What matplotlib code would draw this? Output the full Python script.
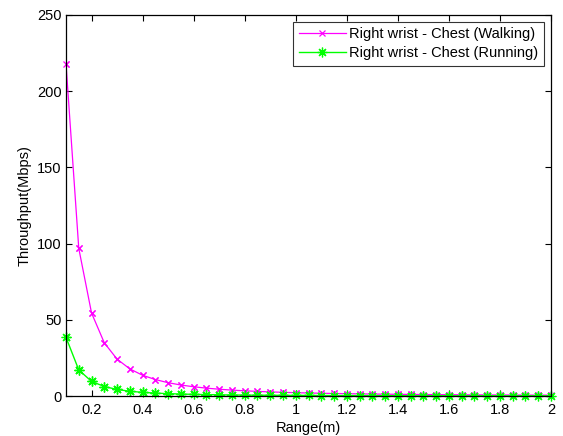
import matplotlib
matplotlib.use("Agg")
import matplotlib.pyplot as plt

plt.rcParams['font.family'] = ['Liberation Sans', 'DejaVu Sans']

range_m = [0.10, 0.10, 0.15, 0.20, 0.25, 0.30, 0.35, 0.40, 0.45, 0.50, 0.55, 0.60, 0.65,
           0.70, 0.75, 0.80, 0.85, 0.90, 0.95, 1.00, 1.05, 1.10, 1.15, 1.20,
           1.25, 1.30, 1.35, 1.40, 1.45, 1.50, 1.55, 1.60, 1.65, 1.70, 1.75,
           1.80, 1.85, 1.90, 1.95, 2.00]
walking = [300, 218, 96.9, 54.5, 34.9, 24.2, 17.8, 13.6, 10.8, 8.72, 7.21, 6.06, 5.16,
           4.45, 3.88, 3.41, 3.02, 2.69, 2.42, 2.18, 1.98, 1.80, 1.65, 1.51,
           1.40, 1.29, 1.20, 1.11, 1.04, 0.97, 0.91, 0.85, 0.80, 0.75, 0.71,
           0.67, 0.64, 0.60, 0.57, 0.55]
running = [50, 38.5, 17.1, 9.6, 6.2, 4.3, 3.1, 2.4, 1.9, 1.54, 1.27, 1.07, 0.91,
           0.79, 0.68, 0.60, 0.53, 0.48, 0.43, 0.385, 0.35, 0.32, 0.29, 0.27,
           0.25, 0.23, 0.21, 0.20, 0.18, 0.17, 0.16, 0.15, 0.14, 0.13, 0.13,
           0.12, 0.11, 0.11, 0.10, 0.10]
labels = ['Right wrist - Chest (Walking)', 'Right wrist - Chest (Running)']
xticks = [0.2, 0.4, 0.6, 0.8, 1, 1.2, 1.4, 1.6, 1.8, 2]
xticklabels = ['0.2', '0.4', '0.6', '0.8', '1', '1.2', '1.4', '1.6', '1.8', '2']
yticks = [0, 50, 100, 150, 200, 250]

fig = plt.figure(figsize=(5.63, 4.36), dpi=100)
ax = fig.add_axes([66/563, 1-396/436, (551-66)/563, (396-15)/436])

wcol, rcol = '#FF00FF', '#00FF00'
ax.plot(range_m, walking, color=wcol, lw=0.9, marker='x', ms=4.5, mew=0.9,
        markevery=slice(1, None), label=labels[0])
ax.plot(range_m, running, color=rcol, lw=1.0, marker=(8, 2, 0), ms=7, mew=0.9,
        markevery=slice(1, None), label=labels[1])
# unclipped markers (as in the original)
ax.plot(range_m[1:], walking[1:], ls='none', color=wcol, marker='x', ms=4.5, mew=0.9,
        clip_on=False)
ax.plot(range_m[1:], running[1:], ls='none', color=rcol, marker=(8, 2, 0), ms=7, mew=0.9,
        clip_on=False)

ax.set_xlim(0.1, 2)
ax.set_ylim(0, 250)
ax.set_xticks(xticks)
ax.set_xticklabels(xticklabels)
ax.set_yticks(yticks)
ax.tick_params(direction='in', top=True, right=True, labelsize=10.5, length=4, width=0.8)
ax.tick_params(axis='x', pad=5)
ax.tick_params(axis='y', pad=3)
for s in ax.spines.values():
    s.set_linewidth(0.9)
ax.set_xlabel('Range(m)', fontsize=10.5, labelpad=3)
ax.set_ylabel('Throughput(Mbps)', fontsize=10.5, labelpad=4)

leg = ax.legend(loc='upper right', fontsize=10.5, frameon=True, fancybox=False,
                edgecolor='black', borderaxespad=0.45, handlelength=3.2,
                handletextpad=0.25, borderpad=0.4, labelspacing=0.3)
leg.get_frame().set_linewidth(0.8)

fig.savefig('out.png', dpi=100)
